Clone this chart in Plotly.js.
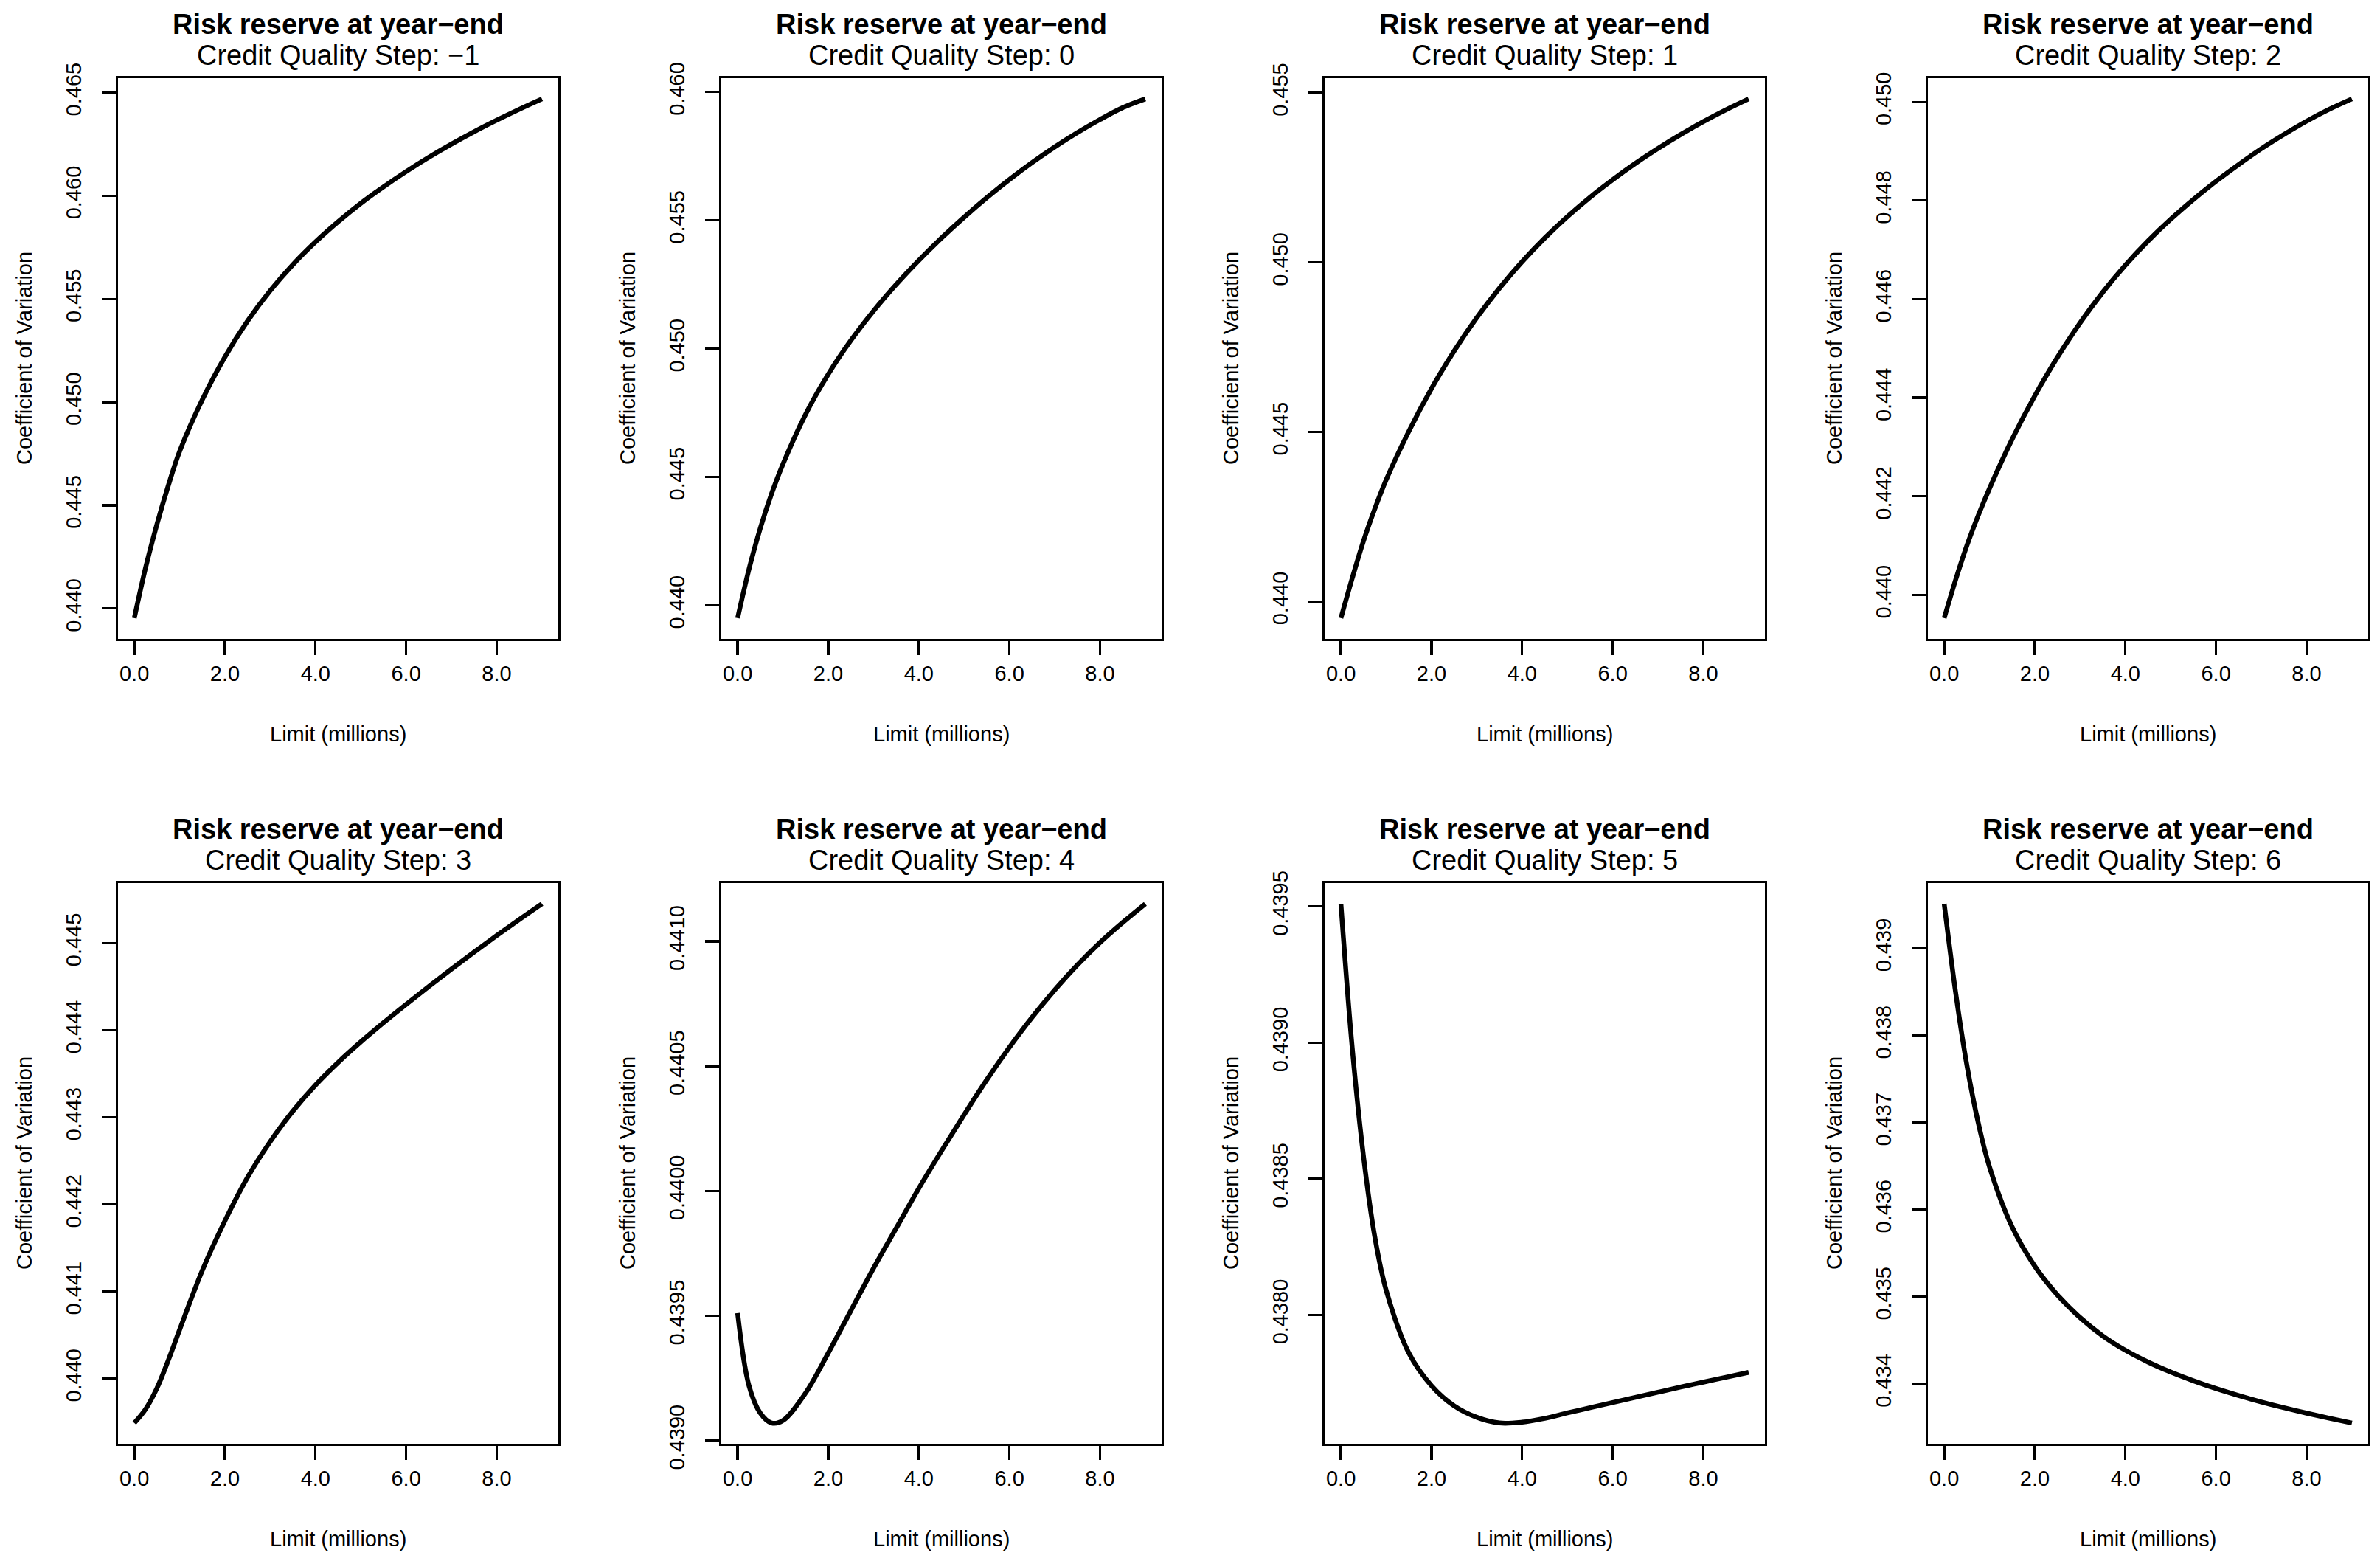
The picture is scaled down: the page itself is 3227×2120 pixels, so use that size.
<!DOCTYPE html>
<html>
<head>
<meta charset="utf-8">
<script src="https://cdn.plot.ly/plotly-3.0.1.min.js"></script>
<style>
  html, body { margin: 0; padding: 0; background: #ffffff; }
  #chart { width: 3227px; height: 2120px; }
</style>
</head>
<body>
<div id="chart"></div>
<script>
// ---------------- DATA ----------------
const limitMillions = [0, 0.25, 0.5, 0.75, 1, 1.5, 2, 2.5, 3, 3.5, 4, 4.5, 5, 5.5, 6, 6.5, 7, 7.5, 8, 8.5, 9];

const cqsLabels = ["−1", "0", "1", "2", "3", "4", "5", "6"];

const cvStepMinus1 = [0.43953, 0.44198, 0.44408, 0.44595, 0.44761, 0.45011, 0.45219, 0.45393, 0.45540, 0.45666, 0.45776, 0.45874, 0.45963, 0.46043, 0.46117, 0.46186, 0.46250, 0.46310, 0.46366, 0.46419, 0.46469];
const cvStep0 = [0.43950, 0.44140, 0.44300, 0.44435, 0.44550, 0.44744, 0.44900, 0.45032, 0.45147, 0.45250, 0.45344, 0.45431, 0.45512, 0.45588, 0.45659, 0.45725, 0.45786, 0.45842, 0.45893, 0.45939, 0.45973];
const cvStep1 = [0.43951, 0.44069, 0.44179, 0.44274, 0.44359, 0.44502, 0.44628, 0.44739, 0.44837, 0.44924, 0.45002, 0.45072, 0.45135, 0.45192, 0.45244, 0.45292, 0.45336, 0.45377, 0.45415, 0.45450, 0.45482];
const cvStep2 = [0.43953, 0.44030, 0.44100, 0.44161, 0.44216, 0.44316, 0.44404, 0.44482, 0.44552, 0.44614, 0.44669, 0.44718, 0.44762, 0.44802, 0.44839, 0.44873, 0.44905, 0.44934, 0.44961, 0.44985, 0.45006];
const cvStep3 = [0.43949, 0.43965, 0.43989, 0.44021, 0.44056, 0.44124, 0.44181, 0.44231, 0.44272, 0.44307, 0.44337, 0.44363, 0.443865, 0.444085, 0.444295, 0.44450, 0.44470, 0.444895, 0.445085, 0.44527, 0.44545];
const cvStep4 = [0.43951, 0.43922, 0.43911, 0.43907, 0.43908, 0.43919, 0.43935, 0.43952, 0.43969, 0.43985, 0.44001, 0.44016, 0.440305, 0.440445, 0.440575, 0.440695, 0.440805, 0.440905, 0.440995, 0.441075, 0.44115];
const cvStep5 = [0.43951, 0.43898, 0.43858, 0.438285, 0.43809, 0.43786, 0.43774, 0.437666, 0.437624, 0.437603, 0.437606, 0.43762, 0.43764, 0.437659, 0.437678, 0.437697, 0.437716, 0.437735, 0.437753, 0.437771, 0.437789];
const cvStep6 = [0.43951, 0.43850, 0.43766, 0.43700, 0.43649, 0.43580, 0.43535, 0.43502, 0.43476, 0.43455, 0.434385, 0.43425, 0.434135, 0.434035, 0.433945, 0.433865, 0.433792, 0.433725, 0.433663, 0.433605, 0.43355];

const xTickVals = [0, 2, 4, 6, 8];
const xTickText = ["0.0", "2.0", "4.0", "6.0", "8.0"];

const yTickVals = [
  [0.440, 0.445, 0.450, 0.455, 0.460, 0.465],
  [0.440, 0.445, 0.450, 0.455, 0.460],
  [0.440, 0.445, 0.450, 0.455],
  [0.440, 0.442, 0.444, 0.446, 0.448, 0.450],
  [0.440, 0.441, 0.442, 0.443, 0.444, 0.445],
  [0.4390, 0.4395, 0.4400, 0.4405, 0.4410],
  [0.4380, 0.4385, 0.4390, 0.4395],
  [0.434, 0.435, 0.436, 0.437, 0.438, 0.439]
];
const yTickText = [
  ["0.440", "0.445", "0.450", "0.455", "0.460", "0.465"],
  ["0.440", "0.445", "0.450", "0.455", "0.460"],
  ["0.440", "0.445", "0.450", "0.455"],
  ["0.440", "0.442", "0.444", "0.446", "0.448", "0.450"],
  ["0.440", "0.441", "0.442", "0.443", "0.444", "0.445"],
  ["0.4390", "0.4395", "0.4400", "0.4405", "0.4410"],
  ["0.4380", "0.4385", "0.4390", "0.4395"],
  ["0.434", "0.435", "0.436", "0.437", "0.438", "0.439"]
];

const mainTitle = "Risk reserve at year−end";
const subTitlePrefix = "Credit Quality Step: ";
const xTitle = "Limit (millions)";
const yTitle = "Coefficient of Variation";

// ---------------- LAYOUT ----------------
const series = [cvStepMinus1, cvStep0, cvStep1, cvStep2, cvStep3, cvStep4, cvStep5, cvStep6];

const W = 3227, H = 2120;
const colLeft = [160, 978, 1796, 2614];
const boxW = 597;
const rowTop = [106, 1197];
const boxH = 760;
const FONT = "Liberation Sans, Arial, Helvetica, sans-serif";

function pad(arr) {
  const lo = Math.min(...arr), hi = Math.max(...arr);
  const d = (hi - lo) * 0.04;
  return [lo - d, hi + d];
}

const traces = [];
const annotations = [];
const layout = {
  width: W, height: H,
  margin: {l: 0, r: 0, t: 0, b: 0},
  paper_bgcolor: "#ffffff",
  plot_bgcolor: "#ffffff",
  showlegend: false,
  font: {family: FONT, color: "#000000", size: 29},
  annotations: annotations
};

series.forEach((ys, i) => {
  const r = Math.floor(i / 4), c = i % 4;
  const n = i + 1;
  const sfx = (n === 1 ? "" : String(n));
  const L = colLeft[c], T = rowTop[r];
  traces.push({
    type: "scatter", mode: "lines",
    x: limitMillions, y: ys,
    xaxis: "x" + sfx, yaxis: "y" + sfx,
    line: {color: "#000000", width: 6.5, shape: "spline", smoothing: 1},
    hoverinfo: "skip"
  });
  const common = {
    showgrid: false, zeroline: false,
    showline: true, mirror: true, linecolor: "#000000", linewidth: 3.3,
    ticks: "outside", ticklen: 19, tickwidth: 3.3, tickcolor: "#000000",
    tickfont: {family: FONT, size: 29, color: "#000000"},
    tickmode: "array", fixedrange: true
  };
  layout["xaxis" + sfx] = Object.assign({}, common, {
    domain: [L / W, (L + boxW) / W],
    anchor: "y" + sfx,
    range: pad(limitMillions),
    tickvals: xTickVals, ticktext: xTickText,
    ticklabelstandoff: 0
  });
  layout["yaxis" + sfx] = Object.assign({}, common, {
    domain: [1 - (T + boxH) / H, 1 - T / H],
    anchor: "x" + sfx,
    range: pad(ys),
    tickvals: yTickVals[i], ticktext: yTickText[i],
    tickangle: -90,
    ticklabelstandoff: 16
  });
  const cx = (L + boxW / 2) / W;
  annotations.push({
    xref: "paper", yref: "paper", x: cx, y: 1 - (T - 73) / H,
    text: "<b>" + mainTitle + "</b>", showarrow: false,
    xanchor: "center", yanchor: "middle",
    font: {family: FONT, size: 38, color: "#000000"}
  });
  annotations.push({
    xref: "paper", yref: "paper", x: cx, y: 1 - (T - 31) / H,
    text: subTitlePrefix + cqsLabels[i], showarrow: false,
    xanchor: "center", yanchor: "middle",
    font: {family: FONT, size: 38, color: "#000000"}
  });
  annotations.push({
    xref: "paper", yref: "paper", x: cx, y: 1 - (T + boxH + 129) / H,
    text: xTitle, showarrow: false,
    xanchor: "center", yanchor: "middle",
    font: {family: FONT, size: 29, color: "#000000"}
  });
  annotations.push({
    xref: "paper", yref: "paper", x: (L - 127) / W, y: 1 - (T + boxH / 2) / H,
    text: yTitle, showarrow: false, textangle: -90,
    xanchor: "center", yanchor: "middle",
    font: {family: FONT, size: 29, color: "#000000"}
  });
});

Plotly.newPlot("chart", traces, layout, {displayModeBar: false, staticPlot: true});
</script>
</body>
</html>
